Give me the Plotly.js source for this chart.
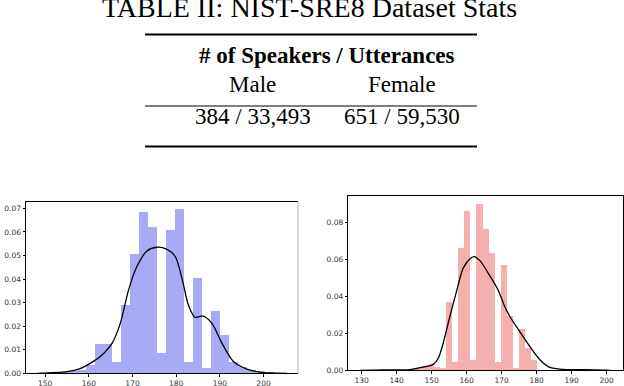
<!DOCTYPE html>
<html>
<head>
<meta charset="utf-8">
<script src="https://cdn.plot.ly/plotly-3.0.1.min.js"></script>
<style>html,body{margin:0;padding:0;background:#fff;}#chart{width:624px;height:386px;}</style>
</head>
<body>
<div id="chart"></div>
<script>
// ---------- Table data ----------
const tableTitle = "TABLE II: NIST-SRE8 Dataset Stats";
const tableHeader = "# of Speakers / Utterances";
const tableGroups = ["Male", "Female"];
const tableValues = ["384 / 33,493", "651 / 59,530"];

// ---------- Left histogram (male heights) ----------
const maleBinStart = 148.96;
const maleBinWidth = 2.055;
const maleDensity = [0.0003, 0.0005, 0.0007, 0.001, 0.0012, 0.0035, 0.0125, 0.0125, 0.0048, 0.029,
  0.0506, 0.0685, 0.0621, 0.0086, 0.0608, 0.0697, 0.0048, 0.0405, 0.0024, 0.0266,
  0.0164, 0.0048, 0.0028, 0.0012, 0.0008, 0.0004];
const maleKdeX = [148.1, 155.0, 158.0, 160.3, 162.6, 165.3, 167.2, 169.1, 171.0, 173.3, 175.6, 177.9,
  179.8, 181.5, 182.8, 184.3, 186.2, 188.2, 190.5, 193.1, 196.2, 200.0, 203.0, 205.4];
const maleKdeY = [0.0, 0.0007, 0.002, 0.0042, 0.0071, 0.0127, 0.0212, 0.0354, 0.0453, 0.0519, 0.0535, 0.0526,
  0.0495, 0.0389, 0.029, 0.0238, 0.0243, 0.0212, 0.0127, 0.005, 0.0018, 0.0003, 0.0001, 0.0];
const maleXTicks = [150, 160, 170, 180, 190, 200];
const maleYTicks = [0, 0.01, 0.02, 0.03, 0.04, 0.05, 0.06, 0.07];

// ---------- Right histogram (female heights) ----------
const femaleBinStart = 131.43;
const femaleBinWidth = 1.743;
const femaleDensity = [0, 0, 0.0008, 0, 0, 0, 0.0003, 0.0005, 0.0015, 0.0022, 0.0026, 0.002, 0.0014,
  0.0372, 0.0045, 0.0662, 0.0863, 0.0056, 0.0900, 0.0765, 0.0635, 0.0045, 0.0570, 0.0294, 0.0010,
  0.0224, 0.0120, 0.0056, 0.0003, 0, 0.0003, 0, 0.0008, 0.0003, 0, 0, 0.0008];
const femaleKdeX = [129.5, 137.0, 143.8, 146.7, 150.5, 151.9, 153.3, 155.2, 157.1, 159.0, 160.9, 162.1, 163.8,
  166.2, 169.0, 170.9, 172.4, 175.2, 178.1, 181.0, 183.8, 187.6, 193.3, 200.0, 201.0];
const femaleKdeY = [0.0, 0.0002, 0.0004, 0.0014, 0.0032, 0.0065, 0.0146, 0.029, 0.0426, 0.0552, 0.0603, 0.0616, 0.0594,
  0.0525, 0.0435, 0.0345, 0.029, 0.0209, 0.0128, 0.0056, 0.0016, 0.0005, 0.0004, 0.0001, 0.0];
const femaleXTicks = [130, 140, 150, 160, 170, 180, 190, 200];
const femaleYTicks = [0, 0.02, 0.04, 0.06, 0.08];

// ---------- helpers ----------
const W = 624, H = 386;
const px = v => v / W;
const py = v => 1 - v / H;
const centers = (start, w, arr) => arr.map((_, i) => start + (i + 0.5) * w);

const tickFont = {family: "DejaVu Sans", size: 7.5, color: "#333"};
const serif = "Liberation Serif, Times New Roman, serif";

const traces = [
  {type: "bar", x: centers(maleBinStart, maleBinWidth, maleDensity), y: maleDensity, width: maleBinWidth,
   marker: {color: "rgb(168,170,245)", line: {width: 0}}, xaxis: "x", yaxis: "y", hoverinfo: "skip"},
  {type: "scatter", mode: "lines", x: maleKdeX, y: maleKdeY, line: {color: "#000", width: 1.3, shape: "spline", smoothing: 0.8},
   xaxis: "x", yaxis: "y", hoverinfo: "skip"},
  {type: "bar", x: centers(femaleBinStart, femaleBinWidth, femaleDensity), y: femaleDensity, width: femaleBinWidth,
   marker: {color: "rgb(243,176,172)", line: {width: 0}}, xaxis: "x2", yaxis: "y2", hoverinfo: "skip"},
  {type: "scatter", mode: "lines", x: femaleKdeX, y: femaleKdeY, line: {color: "#000", width: 1.3, shape: "spline", smoothing: 0.8},
   xaxis: "x2", yaxis: "y2", hoverinfo: "skip"}
];

const axisCommon = {showgrid: false, zeroline: false, ticks: "outside", ticklen: 2.5, tickwidth: 1, tickcolor: "#000",
  showline: true, linecolor: "#000", linewidth: 1, tickfont: tickFont, fixedrange: true};

const tfont = {family: serif, size: 23, color: "#000"};

const layout = {
  width: W, height: H,
  margin: {l: 0, r: 0, t: 0, b: 0},
  paper_bgcolor: "#fff", plot_bgcolor: "#fff",
  showlegend: false, bargap: 0, barmode: "overlay",
  xaxis: Object.assign({}, axisCommon, {domain: [px(26), px(298)], range: [145.6, 207.9], tickvals: maleXTicks,
    anchor: "y", mirror: true}),
  yaxis: Object.assign({}, axisCommon, {domain: [py(373.3), py(202)], range: [0, 0.0727], tickvals: maleYTicks,
    tickformat: ".2f", anchor: "x"}),
  xaxis2: Object.assign({}, axisCommon, {domain: [px(348.3), px(622.7)], range: [126.2, 204.6], tickvals: femaleXTicks,
    anchor: "y2", mirror: true}),
  yaxis2: Object.assign({}, axisCommon, {domain: [py(370.3), py(196)], range: [0, 0.0944], tickvals: femaleYTicks,
    tickformat: ".2f", anchor: "x2", mirror: true}),
  shapes: [
    {type: "line", xref: "paper", yref: "paper", x0: px(298), x1: px(298), y0: py(373.3), y1: py(202), line: {color: "#ccc", width: 1.5}},
    {type: "line", xref: "paper", yref: "paper", x0: px(145), x1: px(477), y0: py(34.5), y1: py(34.5), line: {color: "#000", width: 2.2}},
    {type: "line", xref: "paper", yref: "paper", x0: px(145), x1: px(477), y0: py(106), y1: py(106), line: {color: "#000", width: 1.2}},
    {type: "line", xref: "paper", yref: "paper", x0: px(145), x1: px(477), y0: py(146.5), y1: py(146.5), line: {color: "#000", width: 2.2}}
  ],
  annotations: [
    {text: tableTitle, xref: "paper", yref: "paper", x: px(309), y: py(7.2), xanchor: "center", yanchor: "middle",
     showarrow: false, font: {family: serif, size: 28, color: "#000"}},
    {text: "<b>" + tableHeader + "</b>", xref: "paper", yref: "paper", x: px(326.5), y: py(55), xanchor: "center", yanchor: "middle",
     showarrow: false, font: tfont},
    {text: tableGroups[0], xref: "paper", yref: "paper", x: px(252.5), y: py(84), xanchor: "center", yanchor: "middle",
     showarrow: false, font: tfont},
    {text: tableGroups[1], xref: "paper", yref: "paper", x: px(401.5), y: py(84), xanchor: "center", yanchor: "middle",
     showarrow: false, font: tfont},
    {text: tableValues[0], xref: "paper", yref: "paper", x: px(252.5), y: py(117), xanchor: "center", yanchor: "middle",
     showarrow: false, font: tfont},
    {text: tableValues[1], xref: "paper", yref: "paper", x: px(402), y: py(117), xanchor: "center", yanchor: "middle",
     showarrow: false, font: tfont}
  ]
};

Plotly.newPlot("chart", traces, layout, {staticPlot: true, displayModeBar: false});
</script>
</body>
</html>
